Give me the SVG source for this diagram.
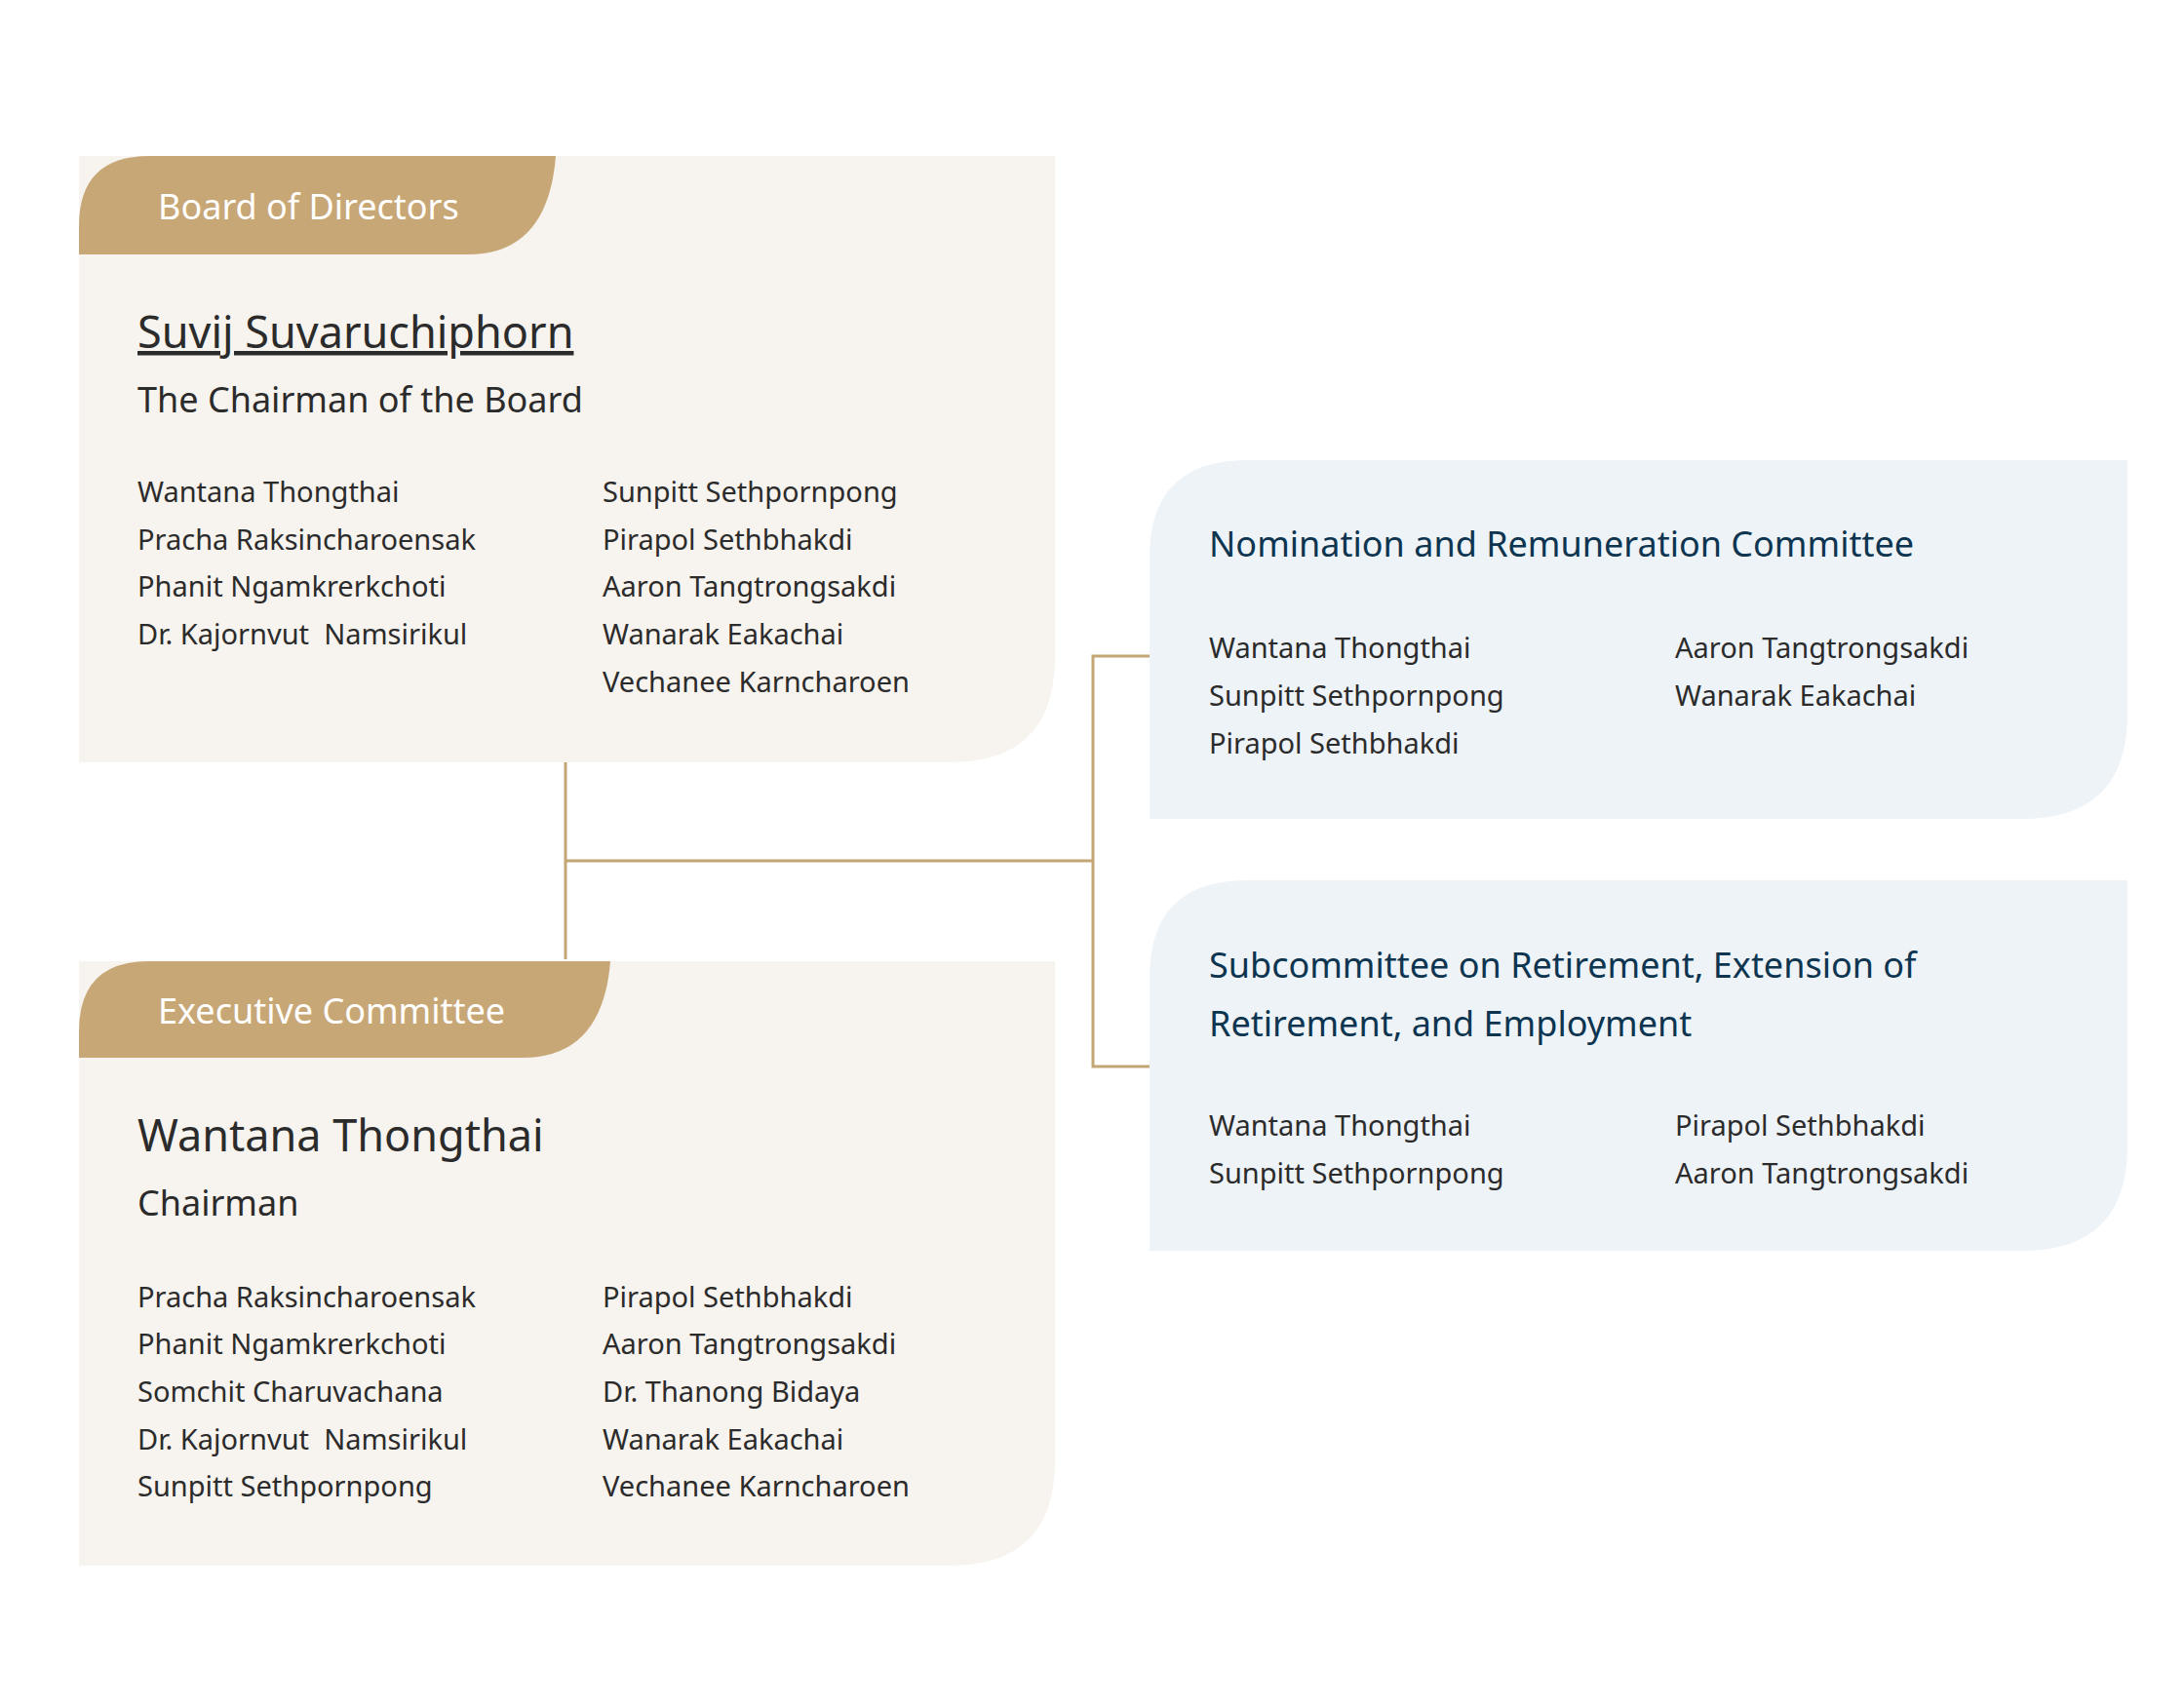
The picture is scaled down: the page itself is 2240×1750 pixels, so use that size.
<svg xmlns="http://www.w3.org/2000/svg" width="2240" height="1750" viewBox="0 0 2240 1750">
<style>
text{font-family:"Noto Sans","Liberation Sans",sans-serif;fill:#2b2b2b}
.tab{fill:#c8a777}
.tabt{fill:#fff;font-size:36px}
.warm{fill:#f7f3ee}
.cool{fill:#eef3f8}
.name{font-size:45px}
.role{font-size:36px}
.m{font-size:29px}
.ct{font-size:36px;fill:#0d3550}
.conn{fill:none;stroke:#c4a574;stroke-width:3}
</style>
<rect width="2240" height="1750" fill="#fff"/>
<g id="connectors">
<path class="conn" d="M580 782V984M580 883H1121M1179 673H1121V1094H1179"/>
</g>
<g id="board">
<path class="warm" d="M81 160H1082V674Q1082 782 974 782H81Z"/>
<path class="tab" d="M153 160H570Q562 261 480 261H81V232Q81 160 153 160Z"/>
<text class="tabt" x="162" y="225">Board of Directors</text>
<text class="name" x="141" y="357" text-decoration="underline">Suvij Suvaruchiphorn</text>
<text class="role" x="141" y="423">The Chairman of the Board</text>
<text class="m" x="141" y="515">Wantana Thongthai</text>
<text class="m" x="141" y="564">Pracha Raksincharoensak</text>
<text class="m" x="141" y="612">Phanit Ngamkrerkchoti</text>
<text class="m" x="141" y="661" xml:space="preserve">Dr. Kajornvut  Namsirikul</text>
<text class="m" x="618" y="515">Sunpitt Sethpornpong</text>
<text class="m" x="618" y="564">Pirapol Sethbhakdi</text>
<text class="m" x="618" y="612">Aaron Tangtrongsakdi</text>
<text class="m" x="618" y="661">Wanarak Eakachai</text>
<text class="m" x="618" y="710">Vechanee Karncharoen</text>
</g>
<g id="executive">
<path class="warm" d="M81 986H1082V1498Q1082 1606 974 1606H81Z"/>
<path class="tab" d="M153 986H626Q618 1085 536 1085H81V1058Q81 986 153 986Z"/>
<text class="tabt" x="162" y="1050">Executive Committee</text>
<text class="name" x="141" y="1181">Wantana Thongthai</text>
<text class="role" x="141" y="1247">Chairman</text>
<text class="m" x="141" y="1341">Pracha Raksincharoensak</text>
<text class="m" x="141" y="1389">Phanit Ngamkrerkchoti</text>
<text class="m" x="141" y="1438">Somchit Charuvachana</text>
<text class="m" x="141" y="1487" xml:space="preserve">Dr. Kajornvut  Namsirikul</text>
<text class="m" x="141" y="1535">Sunpitt Sethpornpong</text>
<text class="m" x="618" y="1341">Pirapol Sethbhakdi</text>
<text class="m" x="618" y="1389">Aaron Tangtrongsakdi</text>
<text class="m" x="618" y="1438">Dr. Thanong Bidaya</text>
<text class="m" x="618" y="1487">Wanarak Eakachai</text>
<text class="m" x="618" y="1535">Vechanee Karncharoen</text>
</g>
<g id="nomination">
<path class="cool" d="M1279 472H2182V732Q2182 840 2074 840H1179V572Q1179 472 1279 472Z"/>
<text class="ct" x="1240" y="571">Nomination and Remuneration Committee</text>
<text class="m" x="1240" y="675">Wantana Thongthai</text>
<text class="m" x="1240" y="724">Sunpitt Sethpornpong</text>
<text class="m" x="1240" y="773">Pirapol Sethbhakdi</text>
<text class="m" x="1718" y="675">Aaron Tangtrongsakdi</text>
<text class="m" x="1718" y="724">Wanarak Eakachai</text>
</g>
<g id="subcommittee">
<path class="cool" d="M1279 903H2182V1175Q2182 1283 2074 1283H1179V1003Q1179 903 1279 903Z"/>
<text class="ct" x="1240" y="1003">Subcommittee on Retirement, Extension of</text>
<text class="ct" x="1240" y="1063">Retirement, and Employment</text>
<text class="m" x="1240" y="1165">Wantana Thongthai</text>
<text class="m" x="1240" y="1214">Sunpitt Sethpornpong</text>
<text class="m" x="1718" y="1165">Pirapol Sethbhakdi</text>
<text class="m" x="1718" y="1214">Aaron Tangtrongsakdi</text>
</g>
</svg>
